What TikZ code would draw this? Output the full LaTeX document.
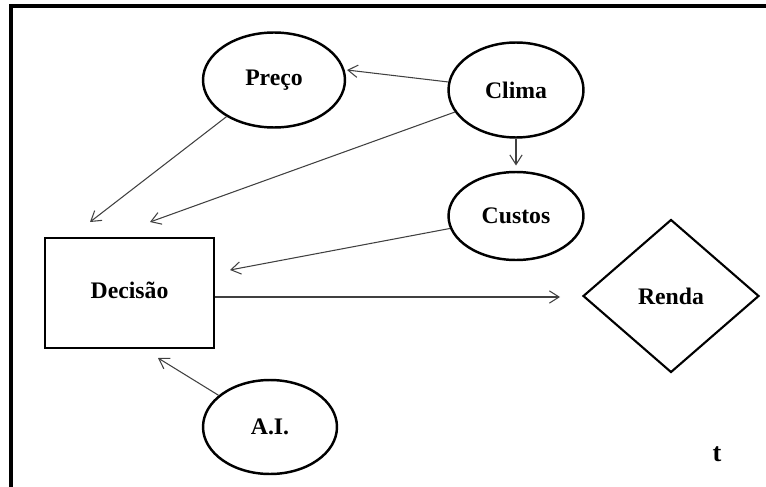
\documentclass[tikz,border=0pt]{standalone}
\usepackage{fontspec}
\setmainfont{Liberation Serif}
\usetikzlibrary{positioning, arrows.meta, shapes.geometric}

\begin{document}
\begin{tikzpicture}[
    x=0.02cm, y=-0.02cm,
    font=\fontsize{13.5}{16}\selectfont\bfseries,
    % one style per kind of node, plus the connectors and the frame
    var/.style    = {ellipse, draw=black, line width=1.4pt, inner sep=0pt},
    choice/.style = {rectangle, draw=black, line width=1.2pt,
                     minimum width=3.38cm, minimum height=2.2cm},
    payoff/.style = {diamond, draw=black, line width=1.2pt, inner sep=0pt,
                     minimum width=3.52cm, minimum height=3.06cm},
    link/.style   = {-{Straight Barb[length=5.5pt, width=7pt]}, black!75, line width=0.6pt},
    frame/.style  = {draw=black, line width=2pt},
  ]
  \useasboundingbox (0,0) rectangle (766,486);

  %% ---------- frame (cut at the right and bottom) ----------
  \draw[frame] (11,500) |- (780,6);

  %% ---------- nodes ----------
  \node[var, minimum width=2.84cm, minimum height=1.9cm]  (preco)   at (274,80)  {Preço};
  \node[var, minimum width=2.7cm,  minimum height=1.9cm]  (clima)   at (516,90)  {Clima};
  \node[var, minimum width=2.7cm,  minimum height=1.76cm] (custos)  at (516,216) {Custos};
  \node[var, minimum width=2.68cm, minimum height=1.88cm] (ai)      at (270,427) {A.I.};
  \node[choice]                                           (decisao) at (129.5,293) {};
  \node                                                   (decText) at (129.5,290) {Decisão};
  \node[payoff]                                           (renda)   at (671,296) {Renda};
  \node[font=\fontsize{15}{18}\selectfont\bfseries]       (tempo)   at (717,454) {t};

  %% ---------- arrow tips that stop short of their node ----------
  \coordinate (tipPreco)  at (347,70);
  \coordinate (tipD1)     at (90,222);
  \coordinate (tipD2)     at (150,222);
  \coordinate (tipD3)     at (230,270);
  \coordinate (tipD4)     at (158,358);
  \coordinate (tipRenda)  at (560,297);

  %% ---------- connectors ----------
  \draw[link] (clima) -- (tipPreco);
  \draw[link] (preco) -- (tipD1);
  \draw[link] (clima) -- (tipD2);
  \draw[link, shorten >=5\pgflinewidth] (clima.south) -- (custos.north);
  \draw[link] (custos) -- (tipD3);
  \draw[link] (ai) -- (tipD4);
  \draw[link] (decisao.east |- tipRenda) -- (tipRenda);
\end{tikzpicture}
\end{document}
